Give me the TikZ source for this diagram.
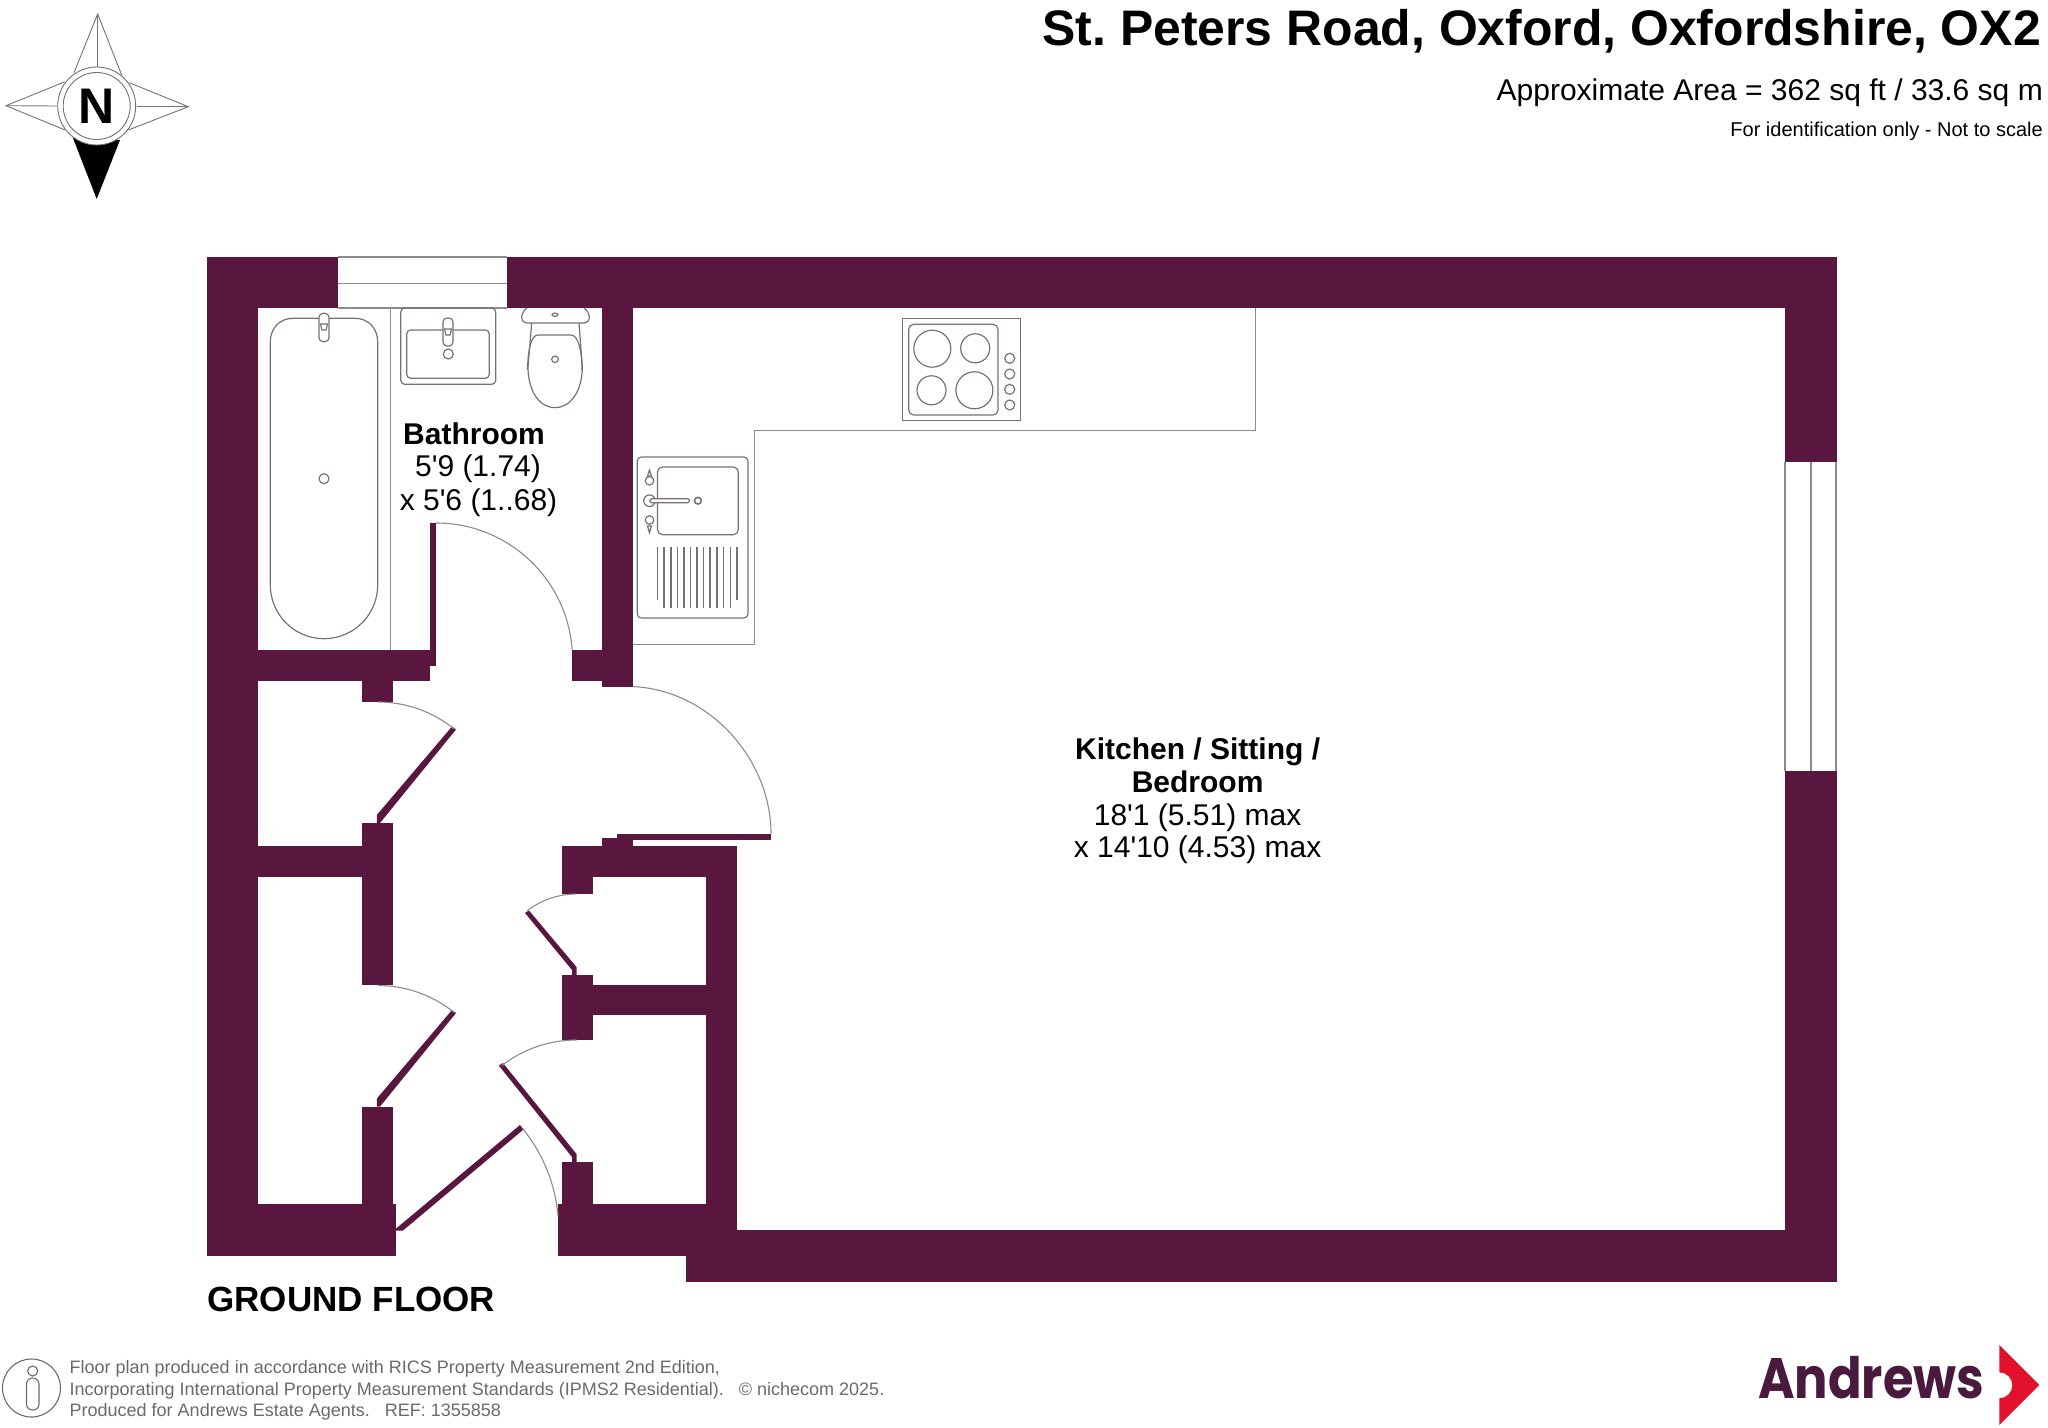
\documentclass[tikz,border=0pt]{standalone}
\usepackage{fontspec}
\setmainfont{Liberation Sans}[Ligatures=TeXOff]
\newfontfamily\logofont[Scale=1]{Poppins}
\definecolor{wallc}{HTML}{59173F}
\definecolor{linec}{HTML}{8F8A8F}
\definecolor{fixc}{HTML}{7A6F78}
\definecolor{footc}{HTML}{6A6A6A}
\definecolor{logoc}{HTML}{4A1A3E}
\definecolor{arrowc}{HTML}{E2122D}
\newcommand{\fsz}[1]{\fontsize{#1pt}{#1pt}\selectfont}
\frenchspacing
\tikzset{
  wall/.style={fill=wallc,draw=none},
  swing/.style={draw=linec,line width=1.1pt},
  fixture/.style={draw=fixc,line width=1.2pt},
  counter/.style={draw=linec,line width=1.4pt},
  groove/.style={draw=fixc,line width=1.5pt},
  comp/.style={draw=black!55,line width=0.9pt},
  roomhead/.style={font=\bfseries\fsz{30},inner sep=0pt,anchor=center},
  roomdim/.style={font=\fsz{30},inner sep=0pt,anchor=center},
  foot/.style={font=\fsz{18},text=footc,inner sep=0pt,anchor=base west},
}
\begin{document}
\begin{tikzpicture}[x=1pt,y=-1pt]
\useasboundingbox (0,0) rectangle (2048,1427);
% ---- walls
\fill[wall] (207,257) rectangle (338,308);
\fill[wall] (507,257) rectangle (1836.6,308);
\fill[wall] (207,257) rectangle (258,1255.5);
\fill[wall] (258,650) rectangle (430,681);
\fill[wall] (430,523) rectangle (436,666);
\fill[wall] (572,650) rectangle (633,681);
\fill[wall] (602,308) rectangle (633,686.5);
\fill[wall] (361.5,681) rectangle (393,702);
\fill[wall] (361.5,823) rectangle (393,985);
\fill[wall] (258,846) rectangle (361.5,877);
\fill[wall] (361.5,1107) rectangle (393,1204);
\fill[wall] (207,1204) rectangle (395.5,1255.5);
\fill[wall] (561.6,846) rectangle (737,877);
\fill[wall] (561.6,846) rectangle (592.6,894);
\fill[wall] (706,846) rectangle (737,1230);
\fill[wall] (602,838) rectangle (633,846);
\fill[wall] (561.6,975) rectangle (592.6,1040);
\fill[wall] (592.6,984.5) rectangle (706,1014.7);
\fill[wall] (561.6,1162) rectangle (592.6,1204);
\fill[wall] (557.8,1204) rectangle (737,1255.5);
\fill[wall] (685.6,1230) rectangle (1836.6,1281.6);
\fill[wall] (1785,257) rectangle (1836.6,462);
\fill[wall] (1785,770.5) rectangle (1836.6,1281.6);
% ---- door leaves
\fill[wall] (617,833.5) rectangle (771,839.6);
\fill[wall] (376.8,823) -- (376.8,815) -- (452,726.5) -- (456,729.5) -- (380,823) -- cycle;
\fill[wall] (376.8,1106.6) -- (376.8,1098.6) -- (452,1010) -- (456,1013) -- (380,1106.6) -- cycle;
\fill[wall] (576.5,975) -- (576.5,967) -- (529,910.5) -- (525,913) -- (572,970) -- (572,975) -- cycle;
\fill[wall] (576.5,1162) -- (576.5,1154) -- (503,1063) -- (498.8,1065.5) -- (572,1157) -- (572,1162) -- cycle;
\fill[wall] (395.5,1229) -- (520,1125) -- (523.5,1129.5) -- (403,1230.5) -- (395.5,1230.5) -- cycle;
% ---- door swings
\draw[swing] (436,523) arc[start angle=-90,end angle=-4,radius=136.5];
\draw[swing] (633,686.6) .. controls (710,690) and (771,760) .. (771,833.5);
\draw[swing] (378,702) arc[start angle=-90,end angle=-51,radius=121];
\draw[swing] (378,985.5) arc[start angle=-90,end angle=-51,radius=121];
\draw[swing] (576.5,894) arc[start angle=-90,end angle=-127.7,radius=81];
\draw[swing] (576.5,1040) arc[start angle=-90,end angle=-127.9,radius=122];
\draw[swing] (523,1129) arc[start angle=-39,end angle=-5,radius=160];
% ---- windows
\draw[swing] (338,257) -- (507,257);
\draw[swing] (338,283.3) -- (507,283.3);
\draw[swing] (338,308) -- (507,308);
\draw[swing] (1785,462) -- (1785,770.5);
\draw[swing] (1811,462) -- (1811,770.5);
\draw[swing] (1836,462) -- (1836,770.5);
% ---- bathroom fittings
\draw[counter] (390.3,308) -- (390.3,650);
\draw[fixture] (270.3,342) .. controls (270.3,328) and (280,318.3) .. (293,318.3) -- (355,318.3) .. controls (368,318.3) and (377.7,328) .. (377.7,342) -- (377.7,585) arc[start angle=0,end angle=180,radius=53.7] -- cycle;
\draw[fixture] (324,478.7) circle[radius=5];
\draw[fixture,fill=white,rounded corners=4pt] (319,313.3) rectangle (329,341.7);
\draw[fixture] (320.5,324) -- (327.5,324) -- (326,330) -- (322,330) -- cycle;
\draw[fixture,rounded corners=4pt] (400.7,308) rectangle (495.7,384.3);
\draw[fixture,rounded corners=4pt] (406.7,330) rectangle (489.3,378.3);
\draw[fixture,fill=white,rounded corners=4pt] (443,318) rectangle (453,346);
\draw[fixture] (444.5,329) -- (451.5,329) -- (450,335) -- (446,335) -- cycle;
\draw[fixture] (448.3,354) circle[radius=5];
\draw[fixture] (527,308) .. controls (521,312) and (519,322) .. (527,323) -- (584,323) .. controls (592,322) and (590,312) .. (584,308);
\draw[fixture] (531.7,323) -- (528,366.7) .. controls (528,392) and (540,407.7) .. (555,407.7) .. controls (570,407.7) and (582.3,392) .. (582.3,366.7) -- (579,323);
\draw[fixture] (527.5,370) .. controls (528,350) and (531,335) .. (538,335) -- (571,335) .. controls (578,335) and (582,350) .. (582,370);
\draw[fixture] (555,359.3) circle[radius=3.3];
\draw[fixture] (555,314.7) ellipse[x radius=3,y radius=1.6];
% ---- kitchen
\draw[counter] (1255.5,308) -- (1255.5,430.7) -- (754.7,430.7) -- (754.7,644.3) -- (633,644.3);
\draw[fixture] (902.8,318.3) rectangle (1020.3,420.7);
\draw[fixture,rounded corners=5pt] (908.7,324.3) rectangle (998,415);
\draw[fixture] (932.3,348.7) circle[radius=18.5];
\draw[fixture] (975.2,348.3) circle[radius=14.5];
\draw[fixture] (931.5,390.3) circle[radius=14.5];
\draw[fixture] (974.4,390.3) circle[radius=18.5];
\foreach \ky in {358.3,374,389.3,405} \draw[fixture] (1009.7,\ky) circle[radius=5];
\draw[fixture,rounded corners=4pt] (637.3,457) rectangle (748,618);
\draw[fixture,rounded corners=5pt] (657.5,467) rectangle (738.3,534.7);
\draw[fixture,line width=1.6pt] (697.9,500.7) circle[radius=3.4];
\draw[fixture,fill=white] (649.5,500.7) circle[radius=5.8];
\draw[fixture,fill=white,rounded corners=1.5pt] (650,498.7) rectangle (689.4,502.7);
\draw[fixture,fill=white] (649.5,470) -- (651.5,476) -- (647.5,476) -- cycle;
\draw[fixture] (649.5,480.7) circle[radius=4.3];
\draw[fixture] (649.5,532.7) -- (651.5,526) -- (647.5,526) -- cycle;
\draw[fixture] (649.5,520) circle[radius=4.3];
\draw[groove] (657.5,546.7) -- (657.5,600);
\draw[groove] (737,546.7) -- (737,600);
\foreach \gx in {664.2,670.9,677.7,684,690.7,697,703.7,710,716.8,723.5,730.3} \draw[groove] (\gx,546.7) -- (\gx,608.3);
% ---- compass
\coordinate (cc) at (96.7,106);
\fill[black] (72.7,137.3) -- (96.7,199) -- (120,140) -- cycle;
\draw[comp] (74,72.7) -- (97.7,14) -- (121.7,75);
\draw[comp] (97.7,14) -- (97.7,66.7);
\draw[comp] (65,81.7) -- (6,105.7) -- (65,130);
\draw[comp] (6,105.7) -- (57.3,106);
\draw[comp] (129.3,82.7) -- (188.3,106.7) -- (128.3,130);
\draw[comp] (136.7,106.7) -- (188.3,106.7);
\draw[comp,fill=white] (cc) circle[radius=39];
\draw[comp] (cc) circle[radius=33.5];
\node[font=\bfseries\fsz{50},inner sep=0pt] (northn) at (cc) {N};
% ---- titles
\node[font=\bfseries\fsz{49.9},inner sep=0pt,anchor=base east] (ttl) at (2041,45) {St. Peters Road, Oxford, Oxfordshire, OX2};
\node[font=\fsz{30},inner sep=0pt,anchor=base east] (area) at (2043,100) {Approximate Area = 362 sq ft / 33.6 sq m};
\node[font=\fsz{20},inner sep=0pt,anchor=base east] (ident) at (2043,136) {For identification only - Not to scale};
% ---- room labels
\node[roomhead] (bath1) at (474,433.7) {Bathroom};
\node[roomdim] (bath2) at (478,469) {5'9 (1.74)};
\node[roomdim] (bath3) at (478.5,502.5) {x 5'6 (1..68)};
\node[roomhead] (kit1) at (1197.6,752) {Kitchen / Sitting /};
\node[roomhead] (kit2) at (1197.6,782) {Bedroom};
\node[roomdim] (kit3) at (1197.6,817.5) {18'1 (5.51) max};
\node[roomdim] (kit4) at (1197.6,849.5) {x 14'10 (4.53) max};
\node[font=\bfseries\fsz{35},inner sep=0pt,anchor=center] (gf) at (351.3,1299) {GROUND FLOOR};
% ---- footer
\draw[draw=footc,line width=1.1pt] (31.5,1388) circle[radius=29];
\draw[draw=footc,line width=1.1pt] (32.7,1371) circle[radius=5];
\draw[draw=footc,line width=1.1pt,rounded corners=6pt] (26.5,1378) rectangle (39,1410);
\node[foot] (f1) at (69.5,1373) {Floor plan produced in accordance with RICS Property Measurement 2nd Edition,};
\node[foot] (f2) at (69.5,1395.5) {Incorporating International Property Measurement Standards (IPMS2 Residential).\hspace{15pt}© nichecom 2025.};
\node[foot] (f3) at (69.5,1416) {Produced for Andrews Estate Agents.\hspace{15pt}REF: 1355858};
% ---- logo
\node[font=\logofont\bfseries\fsz{57},text=logoc,inner sep=0pt,anchor=base west] (logo) at (1758,1398) {\scalebox{0.87}[1]{Andrews}};
\fill[arrowc] (1999.3,1345) -- (2039.3,1385) -- (1999.3,1425) -- (1999.3,1398.3) arc[start angle=90,end angle=-90,radius=13] -- cycle;
\end{tikzpicture}
\end{document}
